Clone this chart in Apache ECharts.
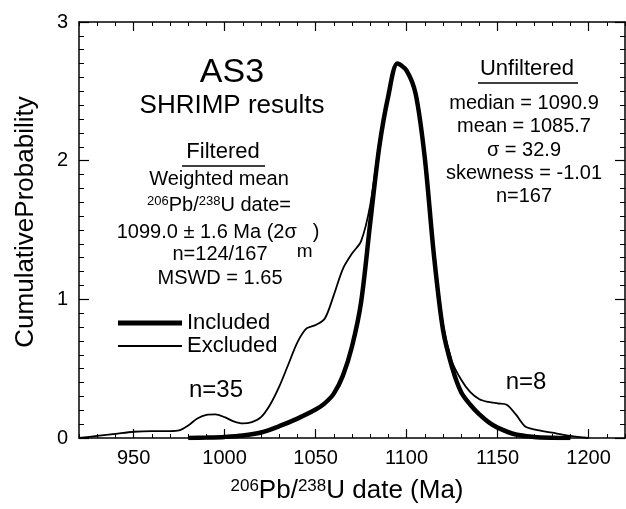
<!DOCTYPE html>
<html><head><meta charset="utf-8">
<script src="https://cdn.jsdelivr.net/npm/echarts@6/dist/echarts.min.js"></script>
<style>html,body{margin:0;padding:0;background:#fff}#c{width:626px;height:509px}</style>
</head><body><div id="c"></div>
<script>
const FONT = '"Liberation Sans", Arial, Helvetica, sans-serif';

// ---- data ----
const xMajorTicks = [950, 1000, 1050, 1100, 1150, 1200];
const seriesNames = ['Included', 'Excluded'];

const includedDates = [980,990,1000,1010,1020,1030,1040,1050,1055,1060,1065,1070,1075,1080,1085,1090,1095,1100,1105,1110,1115,1120,1125,1130,1135,1140,1145,1150,1160,1170,1180,1190];
const includedProb  = [0,0.003,0.008,0.018,0.04,0.085,0.14,0.205,0.25,0.32,0.45,0.66,0.98,1.55,2.1,2.47,2.70,2.65,2.48,2.02,1.32,0.78,0.51,0.33,0.24,0.17,0.115,0.075,0.025,0.008,0.002,0];

const excludedDates = [920,930,940,950,960,970,975,980,985,990,995,1000,1005,1010,1015,1020,1025,1030,1035,1040,1045,1050,1055,1060,1065,1070,1075,1080,1085,1090,1095,1100,1105,1110,1115,1120,1125,1130,1135,1140,1145,1150,1155,1160,1165,1170,1180,1190,1200];
const excludedProb  = [0,0.015,0.03,0.045,0.05,0.05,0.055,0.09,0.14,0.167,0.17,0.15,0.12,0.105,0.115,0.15,0.24,0.37,0.53,0.69,0.79,0.815,0.86,1.03,1.22,1.33,1.42,1.68,2.13,2.48,2.70,2.65,2.49,2.05,1.36,0.82,0.55,0.42,0.33,0.28,0.26,0.25,0.24,0.17,0.085,0.062,0.038,0.015,0];

const yAxisTitle = 'CumulativeProbability';
const xAxisTitle = '{sup|206}Pb/{sup|238}U date (Ma)';
const titleLines = ['AS3', 'SHRIMP results'];
const filteredTitle = 'Filtered';
const filteredLines = ['{n|Weighted mean}', '{sup|206}{n|Pb/}{sup|238}{n|U date=}', '{n|1099.0 ± 1.6 Ma (2σ}{sub|m}{n|)}', '{n|n=124/167}', '{n|MSWD = 1.65}'];
const unfilteredTitle = 'Unfiltered';
const unfilteredLines = ['median = 1090.9', 'mean = 1085.7', 'σ = 32.9', 'skewness = -1.01', 'n=167'];
const countLabels = ['n=35', 'n=8'];

// ---- chart ----
const chart = echarts.init(document.getElementById('c'), null, {renderer: 'canvas'});
const pairs = (xs, ys) => xs.map((x, i) => [x, ys[i]]);
const black = '#000';
const rich = {
  n:   {fontSize: 20, fontFamily: FONT, fill: black, color: black, lineHeight: 24, verticalAlign: 'top'},
  sup: {fontSize: 13, fontFamily: FONT, fill: black, color: black, lineHeight: 15, verticalAlign: 'top'},
  sub: {fontSize: 19, fontFamily: FONT, fill: black, color: black, lineHeight: 20, verticalAlign: 'top', padding: [20, 0, 0, 0]}
};
function txt(text, x, y, size, extra) {
  return Object.assign({type: 'text', x: x, y: y, z: 100,
    style: {text: text, fontSize: size, fontFamily: FONT, fill: black, align: 'center', verticalAlign: 'middle', rich: rich}}, extra || {});
}
const graphics = [];
graphics.push(txt(titleLines[0], 232, 73, 34));
graphics.push(txt(titleLines[1], 232, 106, 26));
graphics.push(txt(filteredTitle, 223, 152, 22));
graphics.push({type: 'line', z: 100, shape: {x1: 182, y1: 166, x2: 265, y2: 166}, style: {stroke: black, lineWidth: 1.5}});
// rich lines: positioned by top of block
const leftTop = [169, 195, 222, 244, 268];
const leftX = [219, 219, 218, 220, 220];
filteredLines.forEach((t, i) => {
  graphics.push({type: 'text', x: leftX[i], y: leftTop[i], z: 100,
    style: {text: t, fontSize: 20, fontFamily: FONT, fill: black, align: 'center', verticalAlign: 'top', rich: rich}});
});
graphics.push(txt(unfilteredTitle, 527, 69, 22));
graphics.push({type: 'line', z: 100, shape: {x1: 478, y1: 83, x2: 578, y2: 83}, style: {stroke: black, lineWidth: 1.5}});
const rightY = [103, 126, 150, 173, 196];
unfilteredLines.forEach((t, i) => graphics.push(txt(t, 524, rightY[i], 20)));
graphics.push(txt(countLabels[0], 216, 390, 24));
graphics.push(txt(countLabels[1], 526, 382, 24));
graphics.push(txt(yAxisTitle, 26, 222, 26, {rotation: Math.PI / 2}));

const axisLine = {show: true, lineStyle: {color: black, width: 1.5}};
const plain = v => String(v);
function xAx(pos, major, showLabel, extra) {
  const a = {
    type: 'value', position: pos, min: 920, max: 1220, interval: 10,
    axisLine: major ? axisLine : {show: false},
    axisTick: major ? {show: true, inside: true, length: 9, customValues: xMajorTicks, lineStyle: {color: black, width: 1.2}}
                    : {show: true, inside: true, length: 4, lineStyle: {color: black, width: 1}},
    axisLabel: showLabel ? {show: true, customValues: xMajorTicks, formatter: plain, fontSize: 20, fontFamily: FONT, color: black, margin: 10} : {show: false},
    splitLine: {show: false}
  };
  return Object.assign(a, extra || {});
}
function yAx(pos, showLabel, extra) {
  const a = {
    type: 'value', position: pos, min: 0, max: 3, interval: 1,
    axisLine: axisLine,
    axisTick: {show: true, inside: true, length: 10, lineStyle: {color: black, width: 1.2}},
    minorTick: {show: true, splitNumber: 10, length: 5, lineStyle: {color: black, width: 1}},
    axisLabel: showLabel ? {show: true, formatter: plain, fontSize: 20, fontFamily: FONT, color: black, margin: 11} : {show: false},
    splitLine: {show: false}, minorSplitLine: {show: false}
  };
  return Object.assign(a, extra || {});
}
const legendBase = {orient: 'vertical', left: 113, itemWidth: 64, icon: 'rect', selectedMode: false,
  textStyle: {fontSize: 22, fontFamily: FONT, color: black}};

chart.setOption({
  animation: false,
  backgroundColor: '#fff',
  grid: {left: 79, right: 1, top: 22, bottom: 69, containLabel: false},
  xAxis: [
    xAx('bottom', true, true, {
      name: xAxisTitle, nameLocation: 'middle', nameGap: 40,
      nameTextStyle: {fontSize: 26, fontFamily: FONT, color: black, padding: [0, 10, 0, 0],
        rich: {sup: {fontSize: 17, fontFamily: FONT, color: black, verticalAlign: 'top'}}}
    }),
    xAx('bottom', false, false),
    xAx('top', true, false),
    xAx('top', false, false)
  ],
  yAxis: [yAx('left', true), yAx('right', false)],
  legend: [
    Object.assign({}, legendBase, {data: [seriesNames[0]], top: 307, itemHeight: 5}),
    Object.assign({}, legendBase, {data: [seriesNames[1]], top: 330, itemHeight: 2})
  ],
  series: [
    {name: seriesNames[1], type: 'line', data: pairs(excludedDates, excludedProb), xAxisIndex: 0, yAxisIndex: 0,
      smooth: 0.3, symbol: 'none', lineStyle: {color: black, width: 1.8}, itemStyle: {color: black}, z: 3},
    {name: seriesNames[0], type: 'line', data: pairs(includedDates, includedProb), xAxisIndex: 0, yAxisIndex: 0,
      smooth: 0.3, symbol: 'none', lineStyle: {color: black, width: 4.5}, itemStyle: {color: black}, z: 4}
  ],
  graphic: graphics
});
</script>
</body></html>
